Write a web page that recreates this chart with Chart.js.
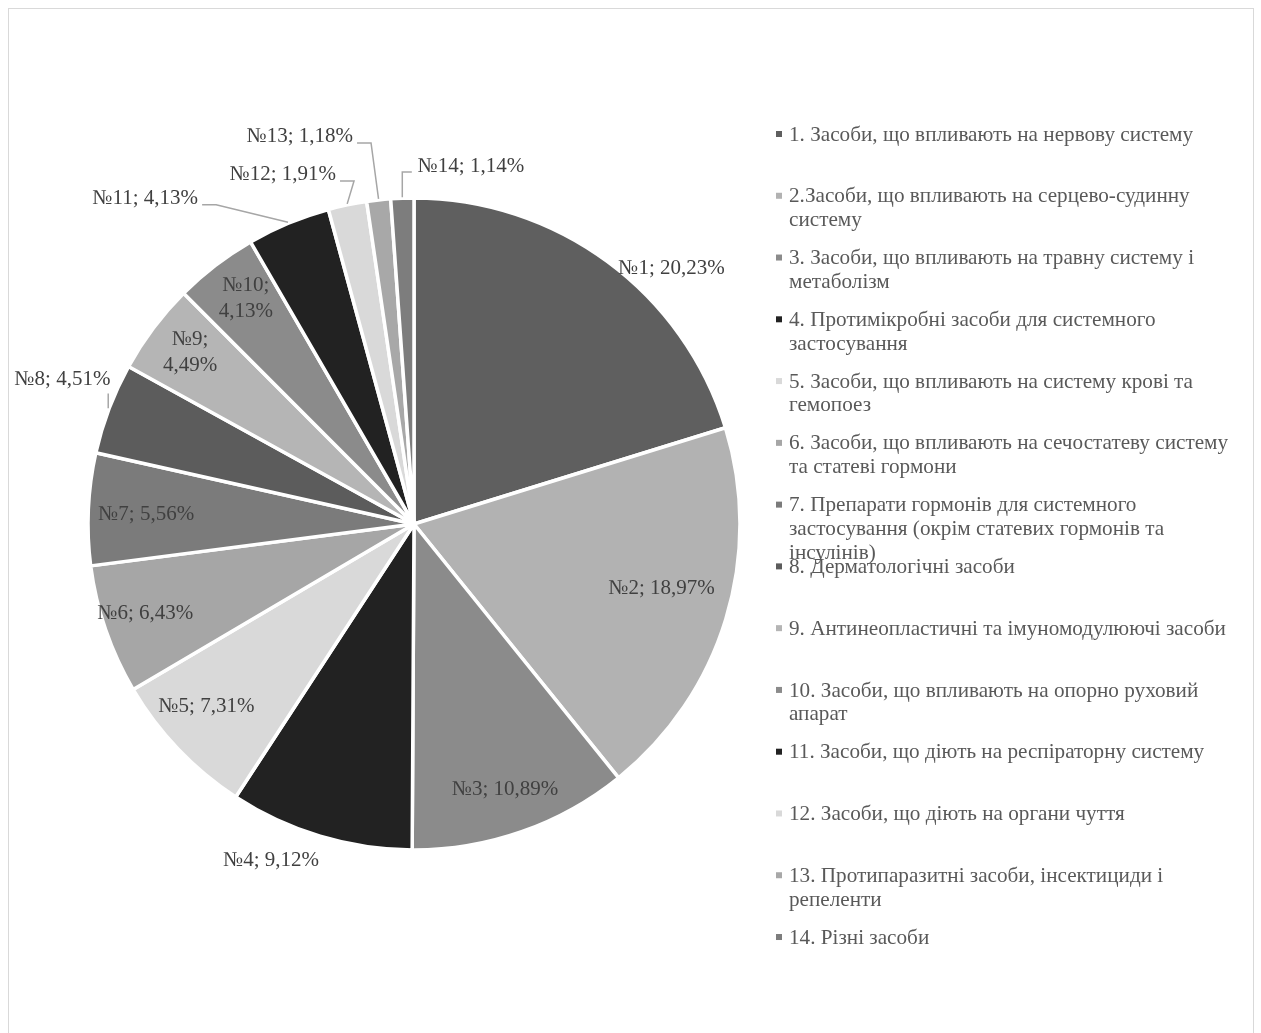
<!DOCTYPE html>
<html>
<head>
<meta charset="utf-8">
<title>Структура асортименту за групами</title>
<script src="https://cdn.jsdelivr.net/npm/chart.js@4.4.1/dist/chart.umd.min.js"></script>
<style>
  html, body { margin: 0; padding: 0; background: #fff; }
  #wrap { position: relative; width: 1261px; height: 1033px; overflow: hidden; }
  #frame {
    position: absolute; left: 8px; top: 8px; width: 1246px; height: 1100px;
    border: 1px solid #d9d9d9; box-sizing: border-box;
  }
  #pieChart { position: absolute; left: 0; top: 0; }
</style>
</head>
<body>
<div id="wrap">
  <div id="frame"></div>
  <canvas id="pieChart" width="1261" height="1033"></canvas>
</div>
<script>
// ===== Pie: share of ATC groups (%) =====

const groupNumbers = ['№1', '№2', '№3', '№4', '№5', '№6', '№7', '№8', '№9', '№10', '№11', '№12', '№13', '№14'];

const shares = [20.23, 18.97, 10.89, 9.12, 7.31, 6.43, 5.56, 4.51, 4.49, 4.13, 4.13, 1.91, 1.18, 1.14];

// Legend entries, already broken into lines
const legendLines = [
  ['1. Засоби, що впливають на нервову систему'],
  ['2.Засоби, що впливають на серцево-судинну', 'систему'],
  ['3. Засоби, що впливають на травну систему і', 'метаболізм'],
  ['4. Протимікробні засоби для системного', 'застосування'],
  ['5. Засоби, що впливають на систему крові та', 'гемопоез'],
  ['6. Засоби, що впливають на сечостатеву систему', 'та статеві гормони'],
  ['7. Препарати гормонів для системного', 'застосування (окрім статевих гормонів та', 'інсулінів)'],
  ['8. Дерматологічні засоби'],
  ['9. Антинеопластичні та імуномодулюючі засоби'],
  ['10. Засоби, що впливають на опорно руховий', 'апарат'],
  ['11. Засоби, що діють на респіраторну систему'],
  ['12. Засоби, що діють на органи чуття'],
  ['13. Протипаразитні засоби, інсектициди і', 'репеленти'],
  ['14. Різні засоби']
];

const sliceColors = [
  '#5f5f5f', '#b2b2b2', '#8b8b8b', '#222222', '#d9d9d9', '#a6a6a6', '#7b7b7b',
  '#5c5c5c', '#b5b5b5', '#8b8b8b', '#222222', '#d9d9d9', '#a8a8a8', '#7d7d7d'
];

const FONT = "'Liberation Serif', 'Times New Roman', serif";
const LABEL_SIZE = 21;
const LEGEND_SIZE = 21.2;

// Where each data label sits: angle shift from the slice middle (deg),
// distance as a fraction of the radius, optional two-line wrap and leader line
const labelPlacement = [
  { shift: 8.8, rf: 1.113 },
  { shift: -2.4, rf: 0.785 },
  { shift: 0.3, rf: 0.86 },
  { shift: 6.3, rf: 1.12 },
  { shift: 2.4, rf: 0.847 },
  { shift: 0.6, rf: 0.868 },
  { shift: -0.5, rf: 0.822 },
  { shift: 1.6, rf: 1.166, leader: true },
  { shift: 0.5, rf: 0.865, wrap: true },
  { shift: 0.8, rf: 0.862, wrap: true },
  { shift: -16.9, rf: 1.294, leader: true },
  { shift: -8.8, rf: 1.144, leader: true },
  { shift: -10.2, rf: 1.238, leader: true },
  { shift: 11.1, rf: 1.112, leader: true }
];

const formatShare = v => v.toFixed(2).replace('.', ',') + '%';

const sliceLabels = {
  id: 'sliceLabels',
  afterDatasetsDraw(chart) {
    const ctx = chart.ctx;
    const arcs = chart.getDatasetMeta(0).data;
    ctx.save();
    ctx.font = `${LABEL_SIZE}px ${FONT}`;
    ctx.fillStyle = '#404040';
    ctx.textAlign = 'center';
    ctx.textBaseline = 'middle';
    arcs.forEach((arc, i) => {
      const p = labelPlacement[i];
      const mid = (arc.startAngle + arc.endAngle) / 2;
      const a = mid + p.shift * Math.PI / 180;
      const r = arc.outerRadius * p.rf;
      const cx = arc.x + Math.cos(a) * r;
      const cy = arc.y + Math.sin(a) * r;
      const lines = p.wrap
        ? [groupNumbers[i] + ';', formatShare(shares[i])]
        : [groupNumbers[i] + '; ' + formatShare(shares[i])];
      const lh = 26;
      lines.forEach((t, k) => ctx.fillText(t, cx, cy + (k - (lines.length - 1) / 2) * lh));

      if (p.leader) {
        const w = Math.max(...lines.map(t => ctx.measureText(t).width));
        const left = cx - w / 2, right = cx + w / 2;
        const sx = arc.x + Math.cos(mid) * (arc.outerRadius + 1);
        const sy = arc.y + Math.sin(mid) * (arc.outerRadius + 1);
        const ly = cy + 6;
        ctx.beginPath();
        if (sx >= left - 8 && sx <= right + 8) {
          // edge point under the label: straight up to it
          ctx.moveTo(sx, sy);
          ctx.lineTo(sx, cy + 14);
        } else if (sx > right) {
          ctx.moveTo(right + 4, ly);
          ctx.lineTo(right + 18, ly);
          ctx.lineTo(sx, sy);
        } else {
          ctx.moveTo(left - 6, ly);
          ctx.lineTo(sx, ly);
          ctx.lineTo(sx, sy);
        }
        ctx.strokeStyle = '#a6a6a6';
        ctx.lineWidth = 1.5;
        ctx.stroke();
      }
    });
    ctx.restore();
  }
};

// Legend on the right: small square marker and wrapped text
const sideLegend = {
  id: 'sideLegend',
  afterDraw(chart) {
    const ctx = chart.ctx;
    const x0 = 776, textX = 789, top = 135, slot = 61.77, lineH = 23.7;
    ctx.save();
    ctx.font = `${LEGEND_SIZE}px ${FONT}`;
    ctx.textBaseline = 'middle';
    ctx.textAlign = 'left';
    legendLines.forEach((lines, i) => {
      const y = top + i * slot;
      ctx.fillStyle = sliceColors[i];
      ctx.fillRect(x0, y - 4, 6, 6);
      ctx.fillStyle = '#595959';
      lines.forEach((t, k) => ctx.fillText(t, textX, y + k * lineH));
    });
    ctx.restore();
  }
};

const ctx = document.getElementById('pieChart').getContext('2d');
new Chart(ctx, {
  type: 'pie',
  data: {
    labels: legendLines.map(l => l.join(' ')),
    datasets: [{
      data: shares,
      backgroundColor: sliceColors,
      borderColor: '#ffffff',
      borderWidth: 3.5,
      hoverOffset: 0
    }]
  },
  options: {
    responsive: false,
    animation: false,
    devicePixelRatio: 1,
    radius: 326,
    layout: { padding: { left: 84, right: 517, top: 194, bottom: 179 } },
    plugins: {
      legend: { display: false },
      tooltip: { enabled: false }
    }
  },
  plugins: [sliceLabels, sideLegend]
});
</script>
</body>
</html>
